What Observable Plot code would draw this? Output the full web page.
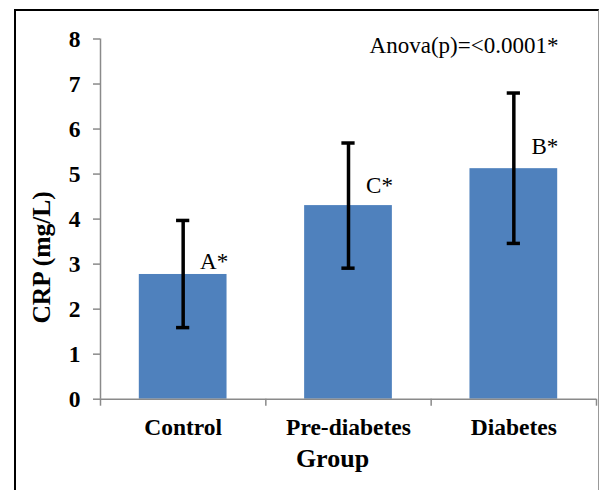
<!DOCTYPE html>
<html>
<head>
<meta charset="utf-8">
<script src="https://cdn.jsdelivr.net/npm/d3@7"></script>
<script src="https://cdn.jsdelivr.net/npm/@observablehq/plot@0.6"></script>
<style>
  html, body { margin: 0; padding: 0; background: #fff; }
  #wrap { position: relative; width: 602px; height: 490px; overflow: hidden; }
  #border { position: absolute; left: 14px; top: 9px; width: 582px; height: 520px;
    border-left: 2px solid #000; border-top: 2px solid #000; border-right: 1px solid #999;
    pointer-events: none; }
</style>
</head>
<body>
<div id="wrap"><div id="border"></div></div>
<script>
const categories = ["Control", "Pre-diabetes", "Diabetes"];
const means = [2.77, 4.30, 5.12];
const lower = [1.59, 2.91, 3.46];
const upper = [3.97, 5.69, 6.80];
const letters = ["A*", "C*", "B*"];
const letterY = [3.06, 4.75, 5.62];
const yTicks = [0, 1, 2, 3, 4, 5, 6, 7, 8];
const annotation = "Anova(p)=<0.0001*";
const yTitle = "CRP (mg/L)";
const xTitle = "Group";

const data = categories.map((c, i) => ({
  i, c, mean: means[i], lo: lower[i], hi: upper[i], letter: letters[i], ly: letterY[i]
}));

const serif = "'Liberation Serif', 'Times New Roman', serif";
const axisGray = "#8a8a8a";

const chart = Plot.plot({
  width: 602,
  height: 490,
  marginLeft: 100,
  marginRight: 6,
  marginTop: 38.5,
  marginBottom: 91.3,
  style: { fontFamily: serif, background: "transparent" },
  x: { domain: [0, categories.length], axis: null },
  y: { domain: [0, 8], axis: null },
  marks: [
    Plot.rectY(data, { x1: d => d.i, x2: d => d.i + 1, y: "mean", fill: "#4f81bd", insetLeft: 38.8, insetRight: 38.8 }),
    Plot.ruleX([0], { stroke: axisGray, strokeWidth: 1.5 }),
    Plot.ruleY([0], { stroke: axisGray, strokeWidth: 1.5 }),
    Plot.axisY({ ticks: yTicks, tickSize: 7, tickPadding: 13, stroke: axisGray, strokeWidth: 1.5,
      fill: "#000", fontSize: 23.5, fontWeight: "bold", fontFamily: serif, tickFormat: d => String(d) }),
    Plot.axisX({ ticks: d3.range(categories.length + 1), tickSize: 7, stroke: axisGray, strokeWidth: 1.5, tickFormat: () => "" }),
    Plot.text(data, { x: d => d.i + 0.5, y: 0, text: "c", dy: 28.5, fontSize: 23.5, fontWeight: "bold", fontFamily: serif, fill: "#000" }),
    Plot.ruleX(data, { x: d => d.i + 0.5, y1: "lo", y2: "hi", stroke: "#000", strokeWidth: 3.5 }),
    Plot.ruleY(data, { x1: d => d.i + 0.5 - 0.04, x2: d => d.i + 0.5 + 0.04, y: "lo", stroke: "#000", strokeWidth: 3.5 }),
    Plot.ruleY(data, { x1: d => d.i + 0.5 - 0.04, x2: d => d.i + 0.5 + 0.04, y: "hi", stroke: "#000", strokeWidth: 3.5 }),
    Plot.text(data, { x: d => d.i + 0.5, y: "ly", text: "letter", dx: 31, fontSize: 23, fontFamily: serif, fill: "#000" }),
    Plot.text([annotation], { frameAnchor: "top", text: d => d, dx: 115.5, dy: -2, fontSize: 23, fontFamily: serif, fill: "#000" }),
    Plot.text([xTitle], { frameAnchor: "bottom", text: d => d, dx: -16, dy: 68, fontSize: 26, fontWeight: "bold", fontFamily: serif, fill: "#000" }),
    Plot.text([yTitle], { frameAnchor: "left", y: [3.15], text: d => d, rotate: -90, textAnchor: "middle", dx: -59, fontSize: 25.5, fontWeight: "bold", fontFamily: serif, fill: "#000" })
  ]
});
chart.style.position = "absolute";
chart.style.left = "0px";
chart.style.top = "0px";
document.getElementById("wrap").appendChild(chart);
</script>
</body>
</html>
